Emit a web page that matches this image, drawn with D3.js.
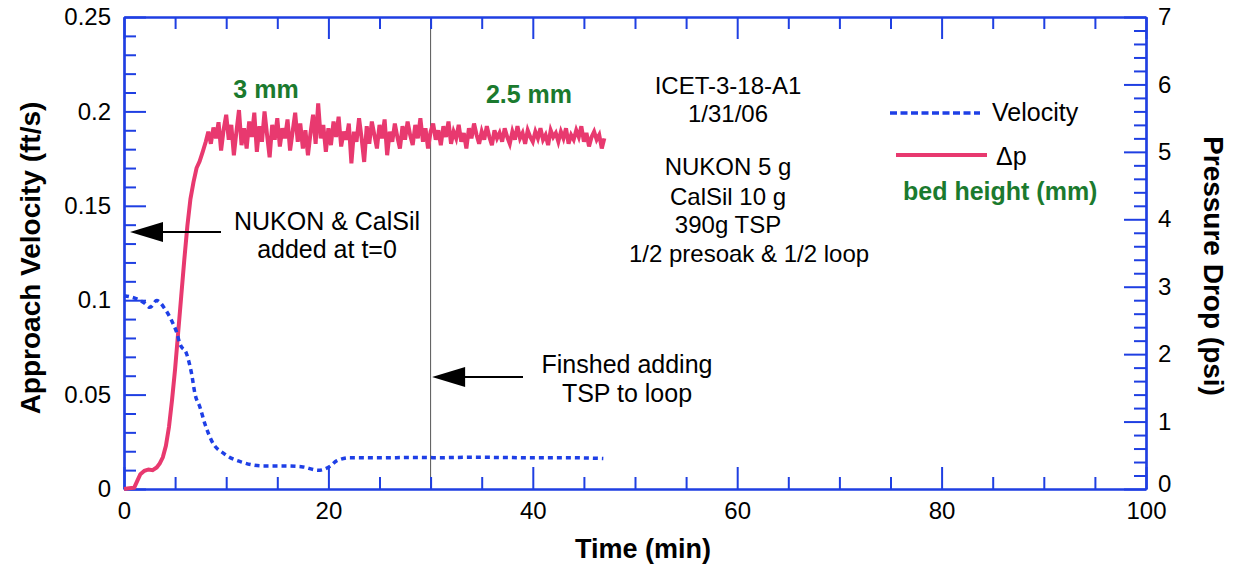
<!DOCTYPE html>
<html>
<head>
<meta charset="utf-8">
<script src="https://cdn.jsdelivr.net/npm/d3@7/dist/d3.min.js"></script>
<style>
  html, body { margin: 0; padding: 0; background: #fff; }
  svg { display: block; font-family: "Liberation Sans", Arial, Helvetica, sans-serif; }
</style>
</head>
<body>
<svg id="chart" width="1241" height="569"></svg>
<script>
// ---- data ----
const velocity = [
  [0, 0.1024], [1.24, 0.1007], [2.0, 0.0985], [2.54, 0.0962], [3.2, 0.0998], [4.0, 0.0954],
  [4.66, 0.0892], [5.15, 0.083], [5.48, 0.0768], [6.13, 0.0715], [6.62, 0.0609], [6.95, 0.0503],
  [7.44, 0.0432], [7.93, 0.0343], [8.58, 0.0255], [9.88, 0.0184], [11.67, 0.014], [13.6, 0.0122],
  [15.6, 0.0122], [17.5, 0.0117], [19.0, 0.0099], [20.2, 0.0122], [20.8, 0.0149], [22.1, 0.0166],
  [25.0, 0.0165], [28.0, 0.0167], [31.0, 0.0166], [34.0, 0.0168], [37.0, 0.0167], [40.0, 0.0165],
  [43.0, 0.0166], [45.5, 0.0164], [46.9, 0.0161]
];

const pressureRise = [
  [0, 0.00], [0.5, 0.01], [1.0, 0.02], [1.3, 0.12], [1.6, 0.22], [2.0, 0.27], [2.4, 0.29],
  [2.8, 0.28], [3.2, 0.32], [3.5, 0.38], [3.8, 0.47], [4.1, 0.64], [4.4, 0.92], [4.7, 1.32],
  [5.0, 1.78], [5.3, 2.32], [5.6, 2.86], [5.9, 3.40], [6.2, 3.90], [6.5, 4.30], [6.8, 4.55],
  [7.1, 4.76], [7.4, 4.86], [7.7, 5.00]
];

const pressurePlateau = [
  [8.00, 5.15], [8.25, 5.30], [8.50, 5.12], [8.75, 5.36], [9.00, 5.20], [9.25, 5.44], [9.50, 5.02],
  [9.75, 5.33], [10.00, 5.55], [10.25, 5.18], [10.50, 5.40], [10.75, 4.95], [11.00, 5.30],
  [11.25, 5.62], [11.50, 5.10], [11.75, 5.35], [12.00, 5.05], [12.25, 5.45], [12.50, 5.22],
  [12.75, 5.58], [13.00, 5.00], [13.25, 5.38], [13.50, 5.15], [13.75, 5.60], [14.00, 5.25],
  [14.25, 4.92], [14.50, 5.40], [14.75, 5.18], [15.00, 5.50], [15.25, 5.08], [15.50, 5.35],
  [15.75, 5.20], [16.00, 5.48], [16.25, 5.02], [16.50, 5.30], [16.75, 5.58], [17.00, 5.15],
  [17.25, 5.42], [17.50, 5.05], [17.75, 5.32], [18.00, 4.95], [18.25, 5.28], [18.50, 5.55],
  [18.75, 5.12], [19.00, 5.72], [19.25, 5.20], [19.50, 5.40], [19.75, 5.00], [20.00, 5.35],
  [20.25, 5.10], [20.50, 5.45], [20.75, 5.22], [21.00, 5.52], [21.25, 5.08], [21.50, 5.30],
  [21.75, 5.18], [22.00, 5.42], [22.25, 4.83], [22.50, 5.30], [22.75, 5.15], [23.00, 5.50],
  [23.25, 5.20], [23.50, 4.85], [23.75, 5.38], [24.00, 5.12], [24.25, 5.45], [24.50, 5.25],
  [24.75, 5.05], [25.00, 5.40], [25.25, 5.20], [25.50, 5.48], [25.75, 4.95], [26.00, 5.30],
  [26.25, 5.15], [26.50, 5.42], [26.75, 5.22], [27.00, 5.05], [27.25, 5.38], [27.50, 5.18],
  [27.75, 5.45], [28.00, 5.25], [28.25, 5.10], [28.50, 5.40], [28.75, 5.20], [29.00, 5.50],
  [29.25, 5.15], [29.50, 5.35], [29.75, 5.05], [30.00, 5.30], [30.25, 5.42], [30.50, 5.18],
  [30.75, 5.32], [31.00, 5.10], [31.25, 5.38], [31.50, 5.22], [31.75, 5.45], [32.00, 5.12],
  [32.25, 5.30], [32.50, 5.20], [32.75, 5.40], [33.00, 5.15], [33.25, 5.28], [33.50, 5.05],
  [33.75, 5.35], [34.00, 5.20], [34.25, 5.42], [34.50, 5.25], [34.75, 5.12], [35.00, 5.30],
  [35.25, 5.18], [35.50, 5.38], [35.75, 5.22], [36.00, 5.10], [36.25, 5.32], [36.50, 5.20],
  [36.75, 5.28], [37.00, 5.15], [37.25, 5.35], [37.50, 5.22], [37.75, 5.12], [38.00, 5.30],
  [38.25, 5.18], [38.50, 5.38], [38.75, 5.20], [39.00, 5.28], [39.25, 5.12], [39.50, 5.32],
  [39.75, 5.22], [40.00, 5.15], [40.25, 5.30], [40.50, 5.20], [40.75, 5.35], [41.00, 5.18],
  [41.25, 5.25], [41.50, 5.10], [41.75, 5.32], [42.00, 5.22], [42.25, 5.28], [42.50, 5.15],
  [42.75, 5.30], [43.00, 5.20], [43.25, 5.35], [43.50, 5.12], [43.75, 5.25], [44.00, 5.18],
  [44.25, 5.32], [44.50, 5.22], [44.75, 5.38], [45.00, 5.15], [45.25, 5.28], [45.50, 5.08],
  [45.75, 5.22], [46.00, 5.30], [46.25, 5.18], [46.50, 5.25], [46.75, 5.05], [47.00, 5.20]
];

const xMajorTicks = [0, 20, 40, 60, 80, 100];
const xMinorTicks = [5, 10, 15, 25, 30, 35, 45, 50, 55, 65, 70, 75, 85, 90, 95];
const leftMajorTicks = [0, 0.05, 0.1, 0.15, 0.2, 0.25];
const leftTickLabels = ["0", "0.05", "0.1", "0.15", "0.2", "0.25"];
const rightMajorTicks = [0, 1, 2, 3, 4, 5, 6, 7];

const infoLines = ["ICET-3-18-A1", "1/31/06", "NUKON 5 g", "CalSil 10 g", "390g TSP", "1/2 presoak & 1/2 loop"];
const markerTime = 30;

// ---- layout ----
const svg = d3.select("#chart");
const L = 124, R = 1146, T = 17, B = 489;
const axisColor = "#1f3fe2";
const pink = "#e8396f";
const blue = "#1e3fe6";
const green = "#1b7a2e";

const x = d3.scaleLinear().domain([0, 100]).range([L, R]);
const yL = d3.scaleLinear().domain([0, 0.25]).range([B, T]);
const yR = d3.scaleLinear().domain([0, 7]).range([B, T]);

const leftMinor = d3.range(0, 0.2501, 0.01).filter(v => Math.abs(v / 0.05 - Math.round(v / 0.05)) > 1e-6);
const rightMinor = d3.range(0, 7.001, 0.2).filter(v => Math.abs(v - Math.round(v)) > 1e-6);

function styleAxis(g) {
  g.selectAll("path.domain").attr("stroke", axisColor).attr("stroke-width", 2.2);
  g.selectAll(".tick line").attr("stroke", axisColor).attr("stroke-width", 2);
  g.selectAll(".tick text").attr("fill", "#000").style("font-size", "24px")
    .style("font-family", "'Liberation Sans', Arial, sans-serif");
}

// marker line at t=30
svg.append("line")
  .attr("x1", x(markerTime)).attr("x2", x(markerTime))
  .attr("y1", T).attr("y2", B)
  .attr("stroke", "#555").attr("stroke-width", 1);

// minor ticks
svg.append("g").attr("transform", `translate(0,${B})`)
  .call(d3.axisBottom(x).tickValues(xMinorTicks).tickSize(-12).tickFormat("").tickSizeOuter(0))
  .call(styleAxis);
svg.append("g").attr("transform", `translate(0,${T})`)
  .call(d3.axisTop(x).tickValues(xMinorTicks).tickSize(-12).tickFormat("").tickSizeOuter(0))
  .call(styleAxis);
svg.append("g").attr("transform", `translate(${L},0)`)
  .call(d3.axisLeft(yL).tickValues(leftMinor).tickSize(-12).tickFormat("").tickSizeOuter(0))
  .call(styleAxis);
svg.append("g").attr("transform", `translate(${R},0)`)
  .call(d3.axisRight(yR).tickValues(rightMinor).tickSize(-12).tickFormat("").tickSizeOuter(0))
  .call(styleAxis);

// major ticks + labels
svg.append("g").attr("transform", `translate(0,${B})`)
  .call(d3.axisBottom(x).tickValues(xMajorTicks).tickSize(-22).tickPadding(13).tickSizeOuter(0).tickFormat(d3.format("d")))
  .call(styleAxis);
svg.append("g").attr("transform", `translate(0,${T})`)
  .call(d3.axisTop(x).tickValues(xMajorTicks).tickSize(-22).tickFormat("").tickSizeOuter(0))
  .call(styleAxis);
svg.append("g").attr("transform", `translate(${L},0)`)
  .call(d3.axisLeft(yL).tickValues(leftMajorTicks).tickSize(-22).tickPadding(13).tickSizeOuter(0)
    .tickFormat((d, i) => leftTickLabels[i]))
  .call(styleAxis);
const rAxis = svg.append("g").attr("transform", `translate(${R},0)`)
  .call(d3.axisRight(yR).tickValues(rightMajorTicks).tickSize(-22).tickPadding(12).tickSizeOuter(0).tickFormat(d3.format("d")))
  .call(styleAxis);
// lift the right-axis "0" slightly so it sits just above the bottom "100"
rAxis.selectAll(".tick text").filter(d => d === 0).attr("dy", "0.1em");

// ---- series ----
const lineV = d3.line().x(d => x(d[0])).y(d => yL(d[1])).curve(d3.curveMonotoneX);
const lineP = d3.line().x(d => x(d[0])).y(d => yR(d[1]));

svg.append("path").datum(pressureRise.concat(pressurePlateau))
  .attr("d", lineP).attr("fill", "none").attr("stroke", pink)
  .attr("stroke-width", 4).attr("stroke-linejoin", "miter");

svg.append("path").datum(velocity)
  .attr("d", lineV).attr("fill", "none").attr("stroke", blue)
  .attr("stroke-width", 3.5).attr("stroke-dasharray", "5,4");

// ---- axis titles ----
svg.append("text").attr("transform", `translate(40,258) rotate(-90)`)
  .attr("text-anchor", "middle").style("font-size", "28px").style("font-weight", "bold")
  .text("Approach Velocity (ft/s)");
svg.append("text").attr("transform", `translate(1204,266) rotate(90)`)
  .attr("text-anchor", "middle").style("font-size", "28px").style("font-weight", "bold")
  .text("Pressure Drop (psi)");
svg.append("text").attr("x", 643).attr("y", 558)
  .attr("text-anchor", "middle").style("font-size", "27px").style("font-weight", "bold")
  .text("Time (min)");

// ---- bed height labels ----
svg.append("text").attr("x", 266).attr("y", 98).attr("text-anchor", "middle")
  .style("font-size", "25px").style("font-weight", "bold").attr("fill", green).text("3 mm");
svg.append("text").attr("x", 529).attr("y", 103).attr("text-anchor", "middle")
  .style("font-size", "25px").style("font-weight", "bold").attr("fill", green).text("2.5 mm");

// ---- info block ----
const infoY = [94, 122, 175, 205, 233, 262];
const infoX = [728, 728, 728, 728, 728, 749];
infoLines.forEach((t, i) => {
  svg.append("text").attr("x", infoX[i]).attr("y", infoY[i]).attr("text-anchor", "middle")
    .style("font-size", "24px").text(t);
});

// ---- annotations with arrows ----
function arrow(x1, x2, y) {
  svg.append("line").attr("x1", x1).attr("x2", x2 + 20).attr("y1", y).attr("y2", y)
    .attr("stroke", "#000").attr("stroke-width", 2);
  svg.append("path").attr("d", `M${x2},${y} L${x2 + 33},${y - 10} L${x2 + 33},${y + 10} Z`).attr("fill", "#000");
}
arrow(221, 130, 232);
svg.append("text").attr("x", 327).attr("y", 230).attr("text-anchor", "middle").style("font-size", "25px").text("NUKON & CalSil");
svg.append("text").attr("x", 327).attr("y", 258).attr("text-anchor", "middle").style("font-size", "25px").text("added at t=0");

arrow(523, x(markerTime) + 1.5, 377);
svg.append("text").attr("x", 627).attr("y", 373).attr("text-anchor", "middle").style("font-size", "25px").text("Finshed adding");
svg.append("text").attr("x", 627).attr("y", 402).attr("text-anchor", "middle").style("font-size", "25px").text("TSP to loop");

// ---- legend ----
svg.append("line").attr("x1", 890).attr("x2", 980).attr("y1", 113).attr("y2", 113)
  .attr("stroke", blue).attr("stroke-width", 3.5).attr("stroke-dasharray", "7,3.5");
svg.append("text").attr("x", 992).attr("y", 121).style("font-size", "25px").text("Velocity");
svg.append("line").attr("x1", 896).attr("x2", 987).attr("y1", 155).attr("y2", 155)
  .attr("stroke", pink).attr("stroke-width", 4);
svg.append("text").attr("x", 996).attr("y", 165).style("font-size", "25px").text("Δp");
svg.append("text").attr("x", 903).attr("y", 200).style("font-size", "25px").style("font-weight", "bold")
  .attr("fill", green).text("bed height (mm)");
</script>
</body>
</html>
